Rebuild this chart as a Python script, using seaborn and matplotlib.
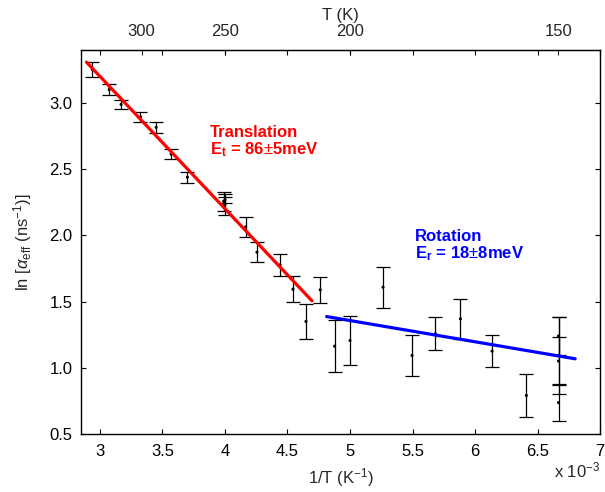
import numpy as np
import pandas as pd
import matplotlib
matplotlib.use("Agg")
import matplotlib.pyplot as plt
import seaborn as sns

# inverse temperature in units of 1e-3 K^-1
inv_T = [2.94, 3.075, 3.17, 3.325, 3.45, 3.57, 3.70, 3.99, 4.0, 4.0,
         4.165, 4.256, 4.44, 4.544, 4.648, 4.762, 4.877, 5.0, 5.264,
         5.496, 5.683, 5.883, 6.136, 6.41, 6.667, 6.667, 6.667, 6.667]
ln_alpha = [3.254, 3.103, 2.99, 2.896, 2.817, 2.615, 2.44, 2.258, 2.233, 2.267,
            2.064, 1.873, 1.777, 1.594, 1.35, 1.589, 1.163, 1.206, 1.609,
            1.093, 1.257, 1.370, 1.126, 0.791, 1.240, 1.093, 1.051, 0.737]
ln_err = [0.055, 0.04, 0.033, 0.035, 0.04, 0.035, 0.043, 0.072, 0.079, 0.025,
          0.078, 0.077, 0.083, 0.10, 0.13, 0.10, 0.197, 0.186, 0.155,
          0.155, 0.123, 0.151, 0.118, 0.163, 0.147, 0.293, 0.181, 0.141]

# Arrhenius fits (end points)
trans_x = [2.893, 4.696]
trans_y = [3.31, 1.506]
rot_x = [4.813, 6.80]
rot_y = [1.387, 1.068]

x_ticks = [3, 3.5, 4, 4.5, 5, 5.5, 6, 6.5, 7]
x_ticklabels = ["3", "3.5", "4", "4.5", "5", "5.5", "6", "6.5", "7"]
y_ticks = [0.5, 1.0, 1.5, 2.0, 2.5, 3.0]
T_ticks = [300, 250, 200, 150]

sns.set_style("ticks")
plt.rcParams["font.family"] = ["Liberation Sans", "DejaVu Sans"]
plt.rcParams["mathtext.fontset"] = "custom"
plt.rcParams["mathtext.rm"] = "Liberation Sans"
plt.rcParams["mathtext.it"] = "Liberation Sans:italic"
plt.rcParams["mathtext.bf"] = "Liberation Sans:bold"

df = pd.DataFrame({"x": inv_T, "y": ln_alpha, "err": ln_err})
fits = pd.DataFrame({"x": trans_x + rot_x, "y": trans_y + rot_y,
                     "fit": ["trans"] * 2 + ["rot"] * 2})

fig = plt.figure(figsize=(6.05, 4.92), dpi=100)
ax = fig.add_axes([0.134, 0.118, 0.858, 0.780])

ax.errorbar(df["x"], df["y"], yerr=df["err"], fmt="none", ecolor="black",
            elinewidth=0.9, capsize=5, capthick=0.9, zorder=2)
sns.scatterplot(data=df, x="x", y="y", color="black", s=5, edgecolor="none",
                ax=ax, zorder=3)
sns.lineplot(data=fits, x="x", y="y", hue="fit",
             palette={"trans": "#ff0000", "rot": "#0000ff"},
             linewidth=2.3, legend=False, ax=ax, zorder=4)

ax.set_xlim(2.85, 7.0)
ax.set_ylim(0.5, 3.4)
ax.set_xticks(x_ticks)
ax.set_xticklabels(x_ticklabels)
ax.set_yticks(y_ticks)
ax.set_yticklabels([f"{v:.1f}" for v in y_ticks])
ax.tick_params(direction="in", length=3.5, width=0.8, top=True, right=True,
               labelsize=12, colors="black")
ax.tick_params(axis="x", pad=7)
ax.tick_params(axis="y", pad=6)
for s in ax.spines.values():
    s.set_linewidth(1.0)
    s.set_color("black")

ax.set_xlabel("1/T (K$^{-1}$)", fontsize=12, labelpad=5)
ax.set_ylabel("ln [$\\alpha_{\\rm eff}$ (ns$^{-1}$)]", fontsize=12, labelpad=11)

top = ax.secondary_xaxis("top", functions=(lambda x: 1000 / np.maximum(x, 1e-6),
                                            lambda t: 1000 / np.maximum(t, 1e-6)))
top.set_xticks(T_ticks)
top.set_xticklabels([str(t) for t in T_ticks])
top.tick_params(direction="in", length=3.5, width=0.8, labelsize=12, pad=8)
top.set_xlabel("T (K)", fontsize=12, labelpad=3)

ax.text(3.88, 2.835, "Translation\nE$_{\\bf t}$ = 86$\\pm$5meV", color="#ff0000",
        fontsize=12, fontweight="bold", va="top", ha="left", linespacing=1.0)
ax.text(5.52, 2.045, "Rotation\nE$_{\\bf r}$ = 18$\\pm$8meV", color="#0000ff",
        fontsize=12, fontweight="bold", va="top", ha="left", linespacing=1.0)

ax.text(1.0, -0.07, "x 10$^{-3}$", transform=ax.transAxes, ha="right",
        va="top", fontsize=12)

fig.savefig("out.png", dpi=100)
